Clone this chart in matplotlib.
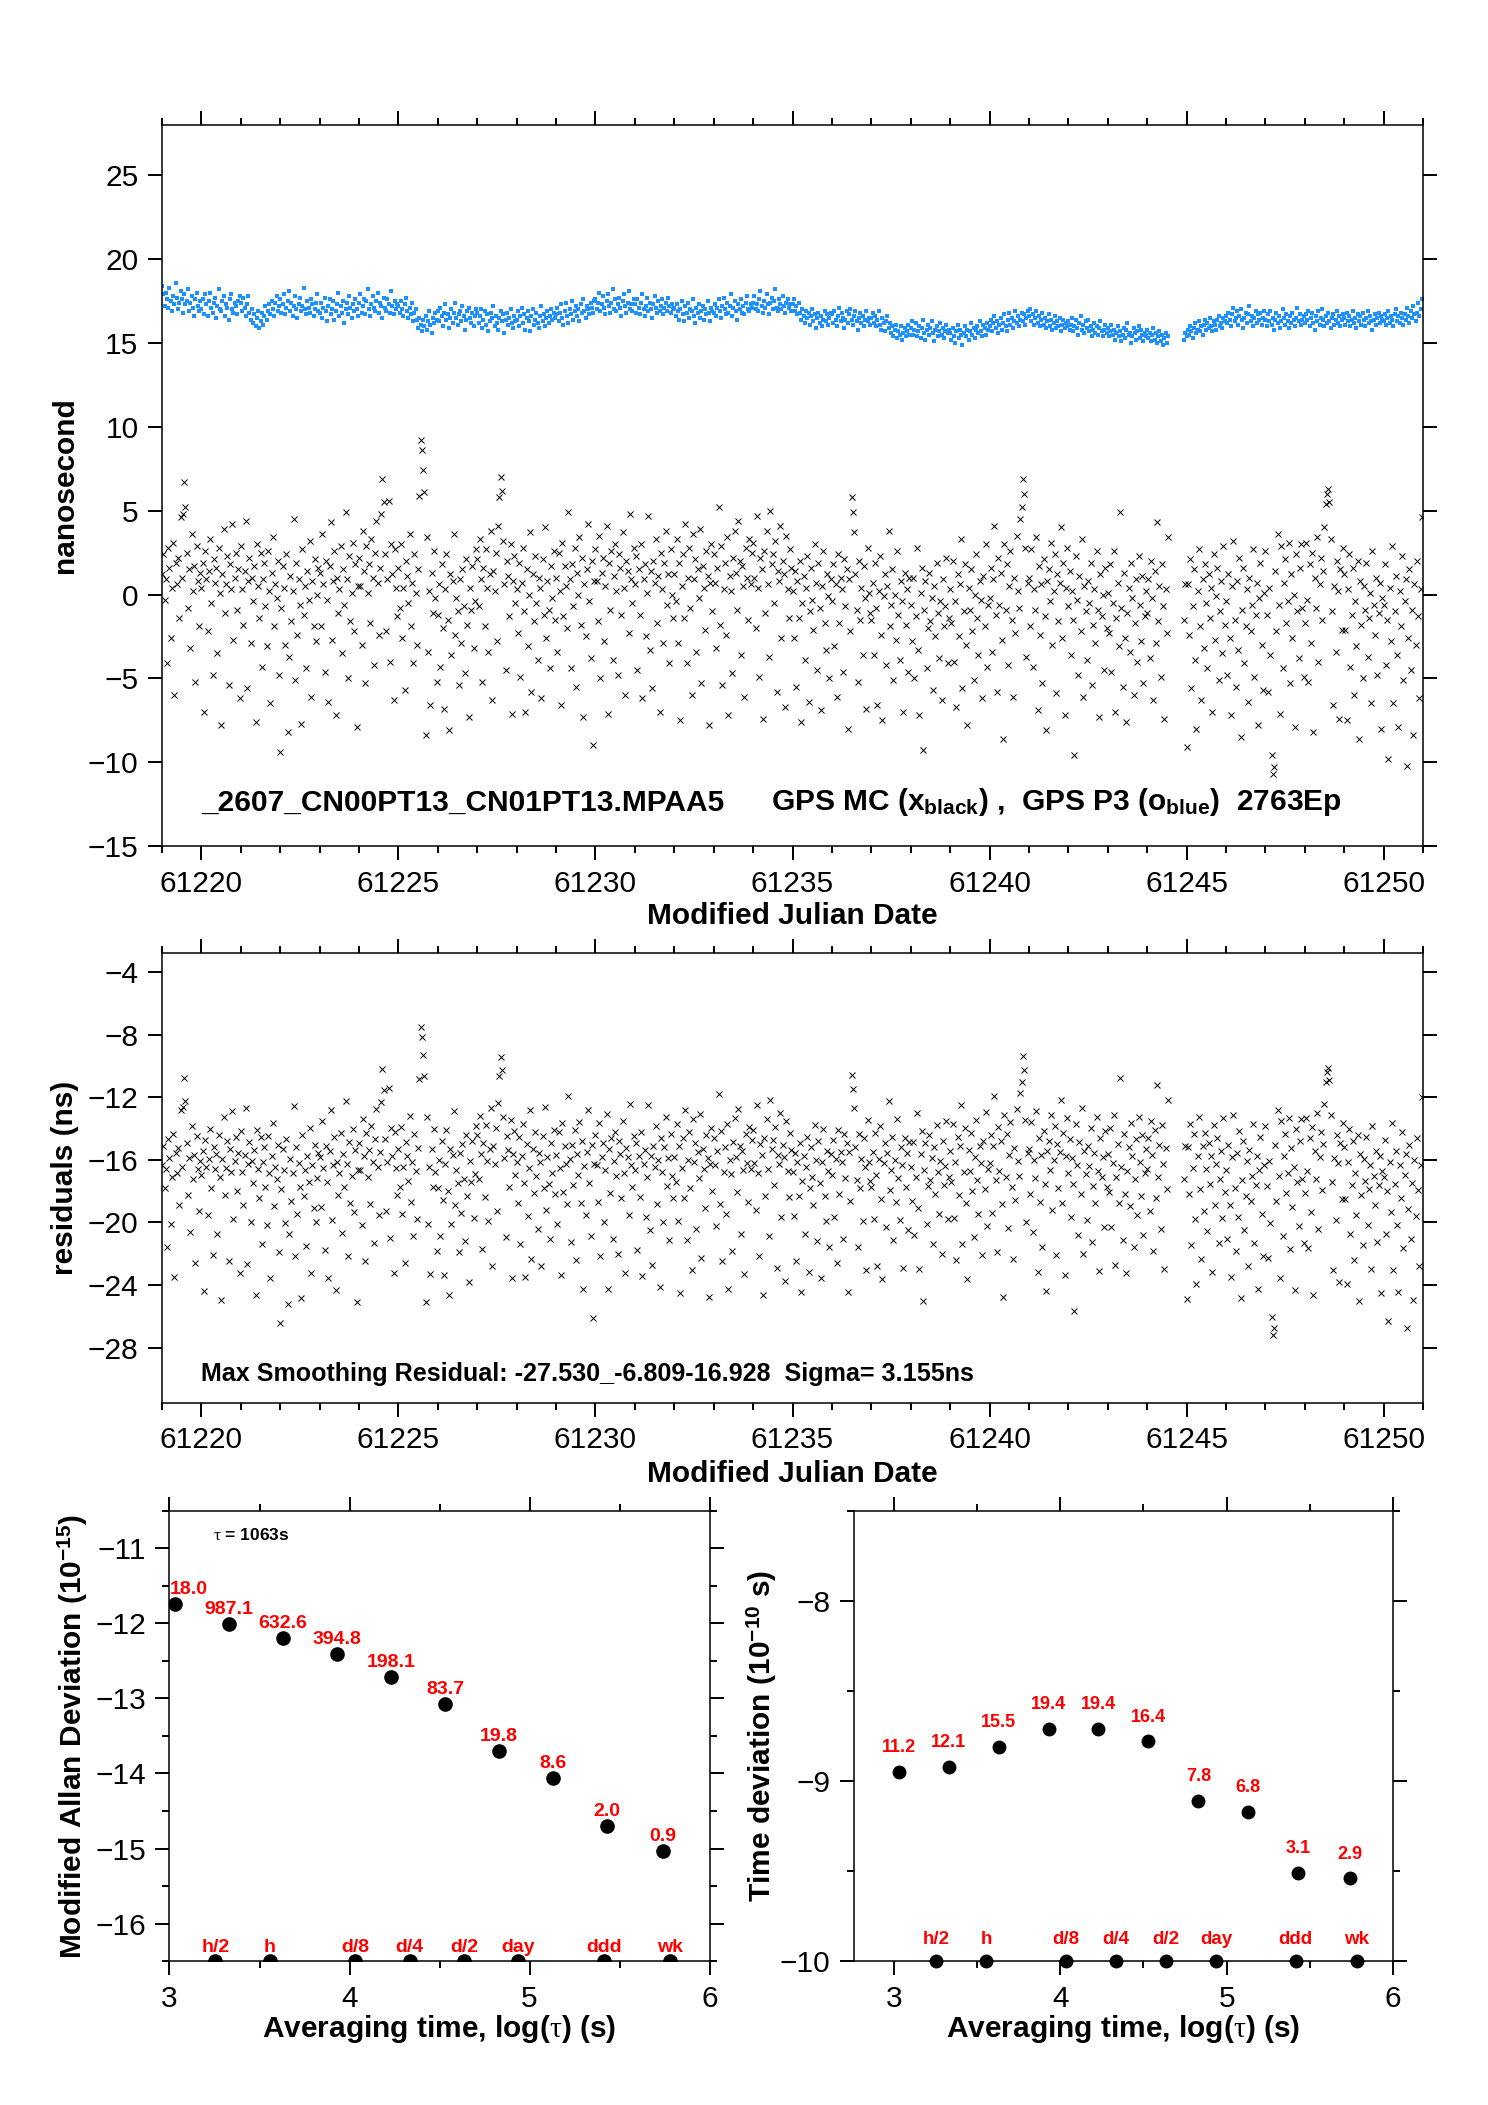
import numpy as np
import pandas as pd
import matplotlib
matplotlib.use('Agg')
import matplotlib.pyplot as plt
from matplotlib.ticker import MultipleLocator

plt.rcParams['font.family'] = ['Liberation Sans', 'DejaVu Sans']
plt.rcParams['mathtext.fontset'] = 'custom'
plt.rcParams['mathtext.rm'] = 'Liberation Sans'
plt.rcParams['mathtext.bf'] = 'Liberation Sans:bold'
plt.rcParams['mathtext.it'] = 'Liberation Serif'
plt.rcParams['axes.unicode_minus'] = True

# ---- time series data: 32 samples per day from MJD 61219.0 (None = no data) ----
mjd_start = 61219.0
samples_per_day = 32

# GPS P3 (blue), one row per day
gps_p3_blue = [
    18.4, 17.9, 17.2, 18.0, 17.6, 17.1, 18.3, 17.5, 16.9, 17.8, 17.3, 18.6, 17.7, 17.0, 17.4, 18.1, 17.6, 16.8, 17.9, 17.3, 17.5, 18.2, 16.9, 17.4, 17.8, 17.1, 16.6, 17.6, 18.0, 17.2, 16.9, 17.5,
    17.0, 17.6, 16.7, 17.9, 17.3, 16.6, 17.5, 18.0, 17.1, 16.8, 17.4, 17.7, 16.5, 17.2, 18.2, 17.0, 16.9, 17.5, 17.8, 16.6, 17.3, 17.1, 16.4, 17.6, 17.9, 17.0, 16.8, 17.4, 17.2, 16.7, 17.5, 17.8,
    17.4, 16.9, 17.7, 17.1, 16.6, 17.3, 17.8, 16.8, 16.4, 17.0, 16.2, 16.7, 16.0, 16.5, 16.9, 15.9, 16.3, 16.8, 16.1, 16.6, 17.2, 16.4, 16.9, 17.3, 16.7, 17.5, 17.0, 16.6, 17.4, 17.8, 16.9, 17.2,
    17.6, 16.8, 17.3, 17.9, 16.7, 17.1, 17.5, 18.1, 16.9, 17.4, 16.6, 17.2, 17.8, 17.0, 16.5, 17.3, 17.7, 16.9, 17.2, 18.3, 17.0, 16.7, 17.5, 17.1, 16.8, 17.6, 17.3, 16.6, 17.0, 17.4, 17.9, 16.9,
    16.8, 17.4, 16.5, 17.1, 17.7, 16.9, 16.3, 17.2, 17.6, 16.7, 17.0, 17.5, 16.4, 16.9, 17.3, 18.0, 16.6, 17.2, 16.8, 17.5, 16.2, 17.0, 17.4, 16.7, 17.8, 17.1, 16.5, 17.3, 16.9, 17.6, 17.0, 16.6,
    17.4, 17.9, 16.8, 17.2, 17.6, 16.7, 17.5, 18.2, 17.0, 16.6, 17.3, 17.8, 17.1, 16.9, 17.5, 18.0, 16.8, 17.4, 17.2, 16.5, 17.7, 17.1, 16.9, 17.6, 17.3, 16.8, 18.1, 17.2, 16.7, 17.5, 17.0, 17.3,
    17.2, 16.8, 17.5, 17.0, 16.6, 17.3, 17.7, 16.9, 16.5, 17.1, 16.7, 17.4, 16.3, 16.8, 17.0, 16.4, 15.9, 16.5, 16.1, 15.7, 16.4, 16.0, 16.6, 15.8, 16.3, 16.9, 16.1, 15.6, 16.5, 16.2, 16.8, 16.4,
    16.9, 16.3, 17.1, 16.6, 16.0, 16.8, 17.3, 16.4, 16.7, 15.9, 16.5, 17.0, 16.2, 16.8, 17.4, 16.5, 16.1, 16.7, 16.9, 16.3, 17.2, 16.6, 15.8, 16.4, 16.9, 17.1, 16.5, 16.2, 16.8, 16.0, 16.6, 17.0,
    16.8, 16.2, 16.6, 17.0, 15.9, 16.4, 16.9, 16.1, 16.7, 15.7, 16.3, 16.8, 16.5, 17.2, 16.0, 16.6, 16.2, 15.8, 16.5, 16.9, 16.3, 16.7, 15.6, 16.4, 16.8, 16.1, 16.5, 17.0, 16.2, 15.9, 16.6, 16.3,
    16.4, 16.9, 16.0, 16.6, 17.1, 16.2, 16.7, 15.8, 16.5, 16.9, 16.3, 15.7, 16.6, 17.0, 16.1, 16.4, 16.8, 16.2, 15.9, 16.6, 17.2, 16.3, 16.7, 16.0, 16.5, 16.9, 16.2, 16.6, 17.0, 16.4, 16.8, 16.5,
    16.7, 17.1, 16.3, 16.8, 17.3, 16.5, 16.1, 16.9, 17.4, 16.6, 16.2, 17.0, 16.7, 17.5, 16.4, 16.9, 17.2, 16.6, 17.0, 16.3, 17.3, 16.8, 17.6, 16.9, 16.5, 17.2, 17.0, 16.7, 17.4, 17.1, 16.8, 17.5,
    17.6, 17.0, 17.4, 18.0, 16.9, 17.3, 17.8, 17.1, 16.7, 17.5, 17.9, 17.2, 16.8, 17.4, 18.2, 17.0, 17.6, 16.9, 17.3, 17.7, 17.1, 16.6, 17.5, 17.9, 17.2, 16.8, 17.4, 18.1, 17.0, 17.3, 16.9, 17.6,
    17.3, 16.8, 17.6, 17.1, 16.7, 17.4, 17.9, 17.0, 16.6, 17.2, 17.7, 16.9, 17.4, 17.0, 16.5, 17.3, 17.8, 17.1, 16.8, 17.5, 16.9, 17.2, 17.6, 16.7, 17.1, 17.4, 16.9, 17.7, 17.2, 16.8, 17.3, 17.0,
    17.1, 16.6, 17.3, 16.9, 16.4, 17.0, 17.5, 16.7, 16.3, 17.2, 16.8, 17.4, 16.5, 17.0, 16.9, 17.6, 16.6, 16.2, 17.1, 16.8, 17.3, 16.5, 16.9, 17.2, 16.4, 17.0, 16.7, 17.5, 16.8, 16.3, 17.1, 16.9,
    16.8, 17.3, 16.6, 17.1, 17.6, 16.9, 16.5, 17.2, 17.7, 17.0, 16.7, 17.4, 16.8, 17.2, 17.9, 16.6, 17.1, 17.5, 16.9, 16.4, 17.3, 17.0, 17.6, 16.8, 17.2, 16.7, 17.4, 17.8, 17.0, 16.9, 17.3, 17.1,
    17.4, 17.8, 17.0, 17.3, 16.9, 17.6, 18.1, 17.2, 16.8, 17.5, 17.1, 17.9, 17.3, 16.7, 17.4, 17.7, 17.0, 17.5, 18.2, 17.1, 16.9, 17.6, 17.3, 17.0, 17.8, 17.2, 16.8, 17.4, 17.6, 17.1, 17.3, 16.9,
    17.3, 17.6, 16.9, 17.2, 16.7, 17.4, 16.8, 16.4, 17.0, 16.6, 16.2, 16.9, 16.5, 16.8, 16.1, 16.6, 17.0, 16.3, 16.7, 15.9, 16.5, 16.8, 16.2, 16.6, 16.0, 16.4, 16.9, 16.3, 16.7, 16.1, 16.5, 16.8,
    16.7, 16.2, 16.9, 16.4, 16.0, 16.6, 17.1, 16.3, 16.8, 16.5, 15.9, 16.4, 16.9, 16.2, 16.7, 17.0, 16.4, 16.1, 16.6, 16.9, 16.3, 15.8, 16.5, 16.8, 16.2, 16.6, 16.0, 16.4, 16.9, 16.3, 16.5, 16.1,
    16.5, 16.8, 16.2, 16.6, 16.0, 16.4, 16.9, 16.1, 15.8, 16.5, 16.2, 15.7, 16.3, 16.6, 15.9, 16.2, 15.6, 16.0, 15.4, 15.8, 16.1, 15.3, 15.7, 15.5, 16.0, 15.2, 15.6, 15.9, 15.4, 15.7, 16.1, 15.5,
    15.9, 16.3, 15.5, 15.8, 16.2, 15.4, 15.7, 16.0, 15.3, 15.9, 16.4, 15.6, 15.2, 15.8, 16.1, 15.5, 15.9, 16.3, 15.6, 15.1, 15.8, 16.0, 15.4, 15.7, 16.2, 15.5, 15.9, 15.3, 15.7, 16.1, 15.6, 15.8,
    15.6, 15.2, 15.9, 15.4, 15.0, 15.7, 16.1, 15.3, 15.8, 15.5, 14.9, 15.6, 16.0, 15.4, 15.8, 15.2, 15.7, 16.2, 15.5, 15.9, 15.3, 15.8, 16.0, 15.6, 16.3, 15.7, 15.4, 16.1, 15.9, 15.5, 16.2, 15.8,
    16.0, 16.4, 15.7, 16.2, 16.6, 15.9, 16.3, 15.6, 16.1, 16.5, 15.8, 16.2, 16.7, 16.0, 15.7, 16.4, 16.8, 16.1, 16.5, 15.9, 16.3, 16.9, 16.2, 16.6, 16.0, 16.4, 16.8, 16.3, 16.7, 16.1, 16.5, 16.9,
    16.6, 17.0, 16.3, 16.7, 16.1, 16.5, 16.9, 16.2, 16.6, 16.0, 16.4, 16.8, 16.1, 16.5, 15.9, 16.3, 16.7, 16.0, 16.4, 15.8, 16.2, 16.6, 15.9, 16.3, 16.0, 16.5, 15.7, 16.1, 16.4, 15.9, 16.2, 16.0,
    16.3, 15.8, 16.1, 16.5, 15.7, 16.0, 16.4, 15.9, 15.5, 16.2, 16.6, 15.8, 16.1, 15.6, 16.3, 15.9, 16.4, 15.7, 16.0, 15.4, 15.8, 16.2, 15.6, 16.0, 15.5, 15.9, 16.3, 15.7, 15.4, 15.8, 16.1, 15.6,
    15.9, 15.4, 15.7, 16.1, 15.5, 15.8, 15.2, 15.6, 16.0, 15.4, 15.7, 15.1, 15.5, 15.9, 15.3, 15.8, 16.2, 15.5, 15.6, 15.0, 15.4, 15.9, 15.6, 15.2, 15.7, 16.0, 15.3, 15.8, 15.5, 15.1, 15.6, 15.4,
    15.8, 15.3, 15.6, 15.1, 15.5, 15.9, 15.2, 15.6, 15.0, 15.4, 15.7, 15.1, 15.5, 14.9, 15.3, 15.6, 15.0, 15.4,
    None, None, None, None, None, None, None, None, None, None, None, None, 15.2, 15.6,
    15.4, 15.8, 15.5, 16.0, 15.7, 15.3, 15.9, 16.2, 15.6, 15.8, 16.3, 15.7, 16.0, 15.5, 16.1, 16.4, 15.8, 16.2, 15.9, 16.5, 16.0, 15.7, 16.3, 16.1, 15.8, 16.4, 16.6, 16.0, 16.2, 15.9, 16.5, 16.3,
    16.6, 16.2, 16.8, 16.4, 16.0, 16.7, 17.1, 16.3, 16.5, 16.9, 16.1, 16.6, 17.0, 16.4, 15.9, 16.5, 16.8, 16.2, 16.7, 17.2, 16.3, 16.6, 16.0, 16.5, 16.9, 16.2, 16.7, 16.4, 16.8, 16.1, 16.5, 16.9,
    16.4, 16.0, 16.7, 16.3, 16.9, 16.1, 16.5, 15.8, 16.4, 16.8, 16.2, 16.6, 15.9, 16.3, 17.0, 16.5, 16.1, 16.7, 16.3, 15.9, 16.6, 16.2, 16.8, 16.4, 16.0, 16.5, 17.1, 16.3, 16.7, 16.1, 16.4, 16.6,
    16.2, 16.7, 16.4, 16.9, 16.0, 16.5, 16.8, 16.2, 15.8, 16.6, 16.3, 16.9, 16.1, 16.5, 17.0, 16.4, 16.0, 16.6, 16.2, 16.8, 16.3, 15.9, 16.5, 16.7, 16.1, 16.4, 16.9, 16.2, 16.6, 16.0, 16.4, 16.7,
    16.5, 16.1, 16.8, 16.3, 16.6, 16.0, 16.4, 16.9, 16.2, 16.5, 15.9, 16.7, 16.3, 16.6, 16.1, 16.8, 16.4, 16.0, 16.5, 16.9, 16.2, 16.6, 16.3, 15.8, 16.4, 16.7, 16.1, 16.5, 16.8, 16.2, 16.6, 16.4,
    16.3, 16.7, 16.1, 16.5, 16.9, 16.2, 16.6, 16.4, 16.0, 16.7, 17.0, 16.3, 16.6, 16.2, 16.8, 16.5, 16.1, 16.7, 16.4, 17.1, 16.6, 16.2, 16.9, 16.5, 17.2, 16.7, 16.3, 16.8, 17.4, 16.6, 17.0, 17.6,
]

# GPS MC (black), one row per day
gps_mc_black = [
    1.2, 2.4, -0.3, 0.9, -4.1, 2.8, 1.6, -2.6, 0.4, 3.1, -6.0, 1.9, 0.6, 2.2, -1.4, 4.6, 1.0, 4.8, 6.7, 5.2, 2.5, -0.8, 1.5, -3.2, 3.6, 0.2, 1.7, -5.2, 2.9, 0.8, -1.9, 1.3,
    0.4, 1.9, -7.0, 2.6, 0.9, -2.2, 1.4, 3.3, -0.5, -4.8, 2.1, 0.7, 1.6, -3.5, 2.8, 0.1, -7.8, 1.2, 3.9, -1.1, 0.6, 2.3, -5.4, 1.8, 0.3, 4.2, -2.7, 1.0, 2.5, -0.9, 1.5, -6.2,
    2.9, 0.3, -1.8, 1.4, 4.4, -5.6, 0.8, 2.2, -2.9, 1.0, -0.4, 1.7, -7.6, 3.0, 0.5, -1.4, 2.5, -4.3, 0.9, 1.9, -0.7, -3.1, 2.6, 0.2, -6.5, 1.3, 3.4, -1.9, 0.6, -0.2, 2.0, -4.8,
    -9.4, -0.8, 1.7, 0.4, -3.0, 2.4, -8.2, -3.7, 1.1, -1.6, 0.2, 4.5, -5.1, 1.9, -2.4, 0.9, -0.6, -7.7, 2.7, -1.2, 0.5, -4.4, 1.4, -0.3, 3.2, -6.1, 0.8, -1.9, 2.1, -2.8, 0.0, 1.6,
    1.3, -1.9, 3.6, 0.6, -4.6, 2.0, -0.3, -6.4, 1.7, 4.3, -2.7, 0.8, 2.6, -7.2, 1.0, -1.1, 0.3, 2.9, -3.5, 1.5, -0.6, 4.9, 0.9, -5.0, 2.3, -1.6, 0.1, 3.1, -2.2, 1.8, -7.9, 0.5,
    2.2, 0.5, -3.0, 3.8, 1.4, -5.3, 2.9, 0.1, 1.8, -1.7, 3.3, 1.0, -4.2, 2.5, 4.4, 0.7, -2.4, 1.6, 4.8, 6.9, 5.5, 2.4, -2.2, 0.9, 5.6, -4.0, 3.0, 1.2, -6.3, 2.7, 0.4, -1.3,
    1.6, -0.8, 3.0, -2.6, 0.4, -5.7, 2.0, 1.1, -0.5, 3.6, -1.9, 0.7, -4.1, 2.4, 0.1, -3.0, 1.5, 5.9, 9.2, 8.6, 7.4, 6.1, -8.4, 3.4, -3.4, 0.2, -6.6, 1.3, -1.1, 2.6, -0.2, -5.2,
    -1.2, 0.6, -4.3, 1.8, -2.0, -6.8, 0.3, 2.4, -1.5, -8.1, 1.2, -3.6, 0.8, 3.6, -2.4, -0.2, -1.0, -5.4, 0.9, -2.9, 1.5, -0.7, -4.7, 2.1, -1.8, -7.3, 0.4, -0.9, 1.7, -3.2, -0.4, 2.7,
    2.1, -0.7, 3.3, 0.9, -5.2, 1.6, -1.9, 2.7, 0.4, -3.4, 1.2, 3.8, -6.3, 1.4, 0.2, 2.5, -2.8, 4.1, 5.8, 7.0, 6.2, 3.2, 0.6, -4.5, 2.0, 1.1, -1.3, 3.0, -7.1, 0.8, 2.3, -0.5,
    0.3, -2.3, 1.9, -4.9, 0.7, 2.8, -1.0, -7.0, 1.5, -3.1, 0.0, 3.7, -5.8, 1.2, -1.6, 2.3, -0.5, -3.9, 1.0, 0.4, -6.2, 2.1, -1.2, 4.0, -2.6, 0.8, -0.9, -4.4, 1.7, -0.2, 2.6, -1.5,
    1.0, -3.4, 2.5, 0.2, -6.6, 3.1, -1.3, 1.7, 0.5, -2.0, 4.9, 0.9, -4.4, 1.8, -0.7, 2.8, -5.5, 1.3, 0.0, 3.4, -1.8, 2.2, -7.3, 0.6, -2.5, 1.5, 4.2, -0.4, -3.8, 2.0, -9.0, 0.8,
    2.7, 0.8, -1.6, 3.5, -5.0, 1.3, 2.2, -2.8, 0.5, 4.1, -7.1, 1.9, -0.9, 2.6, -3.9, 1.1, 3.0, 0.2, -4.8, 2.4, 1.6, -1.2, 3.7, 0.4, -6.0, 2.0, 1.4, -2.3, 4.8, 0.9, -0.5, 2.8,
    0.6, 2.3, -4.5, 1.5, -1.2, 3.0, -6.2, 0.9, 1.8, -2.5, 0.1, 4.7, -3.3, 1.4, -5.6, 2.0, 0.7, 3.3, -1.7, 1.1, -7.0, 2.5, 0.3, -2.9, 1.9, 3.8, -0.6, 1.2, -4.1, 2.7, 0.0, -1.4,
    1.2, -0.4, 3.3, -2.9, 1.9, -7.5, 0.5, 2.4, -1.4, 4.2, -4.1, 1.0, 2.8, -0.8, -6.0, 3.6, 0.9, 2.1, -3.4, 1.5, -0.2, 3.9, -5.3, 1.7, 0.4, -2.1, 2.6, 1.1, -7.8, 0.7, 3.0, -1.0,
    2.4, 0.7, -3.2, 1.6, 5.2, -1.8, 2.9, -5.4, 0.3, 1.9, -2.4, 3.4, -7.2, 1.1, 0.2, -4.7, 2.2, 3.8, 1.3, -0.9, 4.4, 2.0, -3.6, 1.7, 0.5, -6.1, 2.8, 1.0, -1.5, 3.3, 0.6, 2.5,
    3.1, 1.0, -2.0, 4.7, 0.4, -4.9, 2.2, 1.5, -7.4, 2.6, -1.1, 3.8, 0.6, -3.7, 5.0, 1.8, 2.4, -0.5, 3.2, -5.8, 1.4, 0.8, 4.1, -2.6, 2.0, 1.2, -6.7, 3.5, 0.3, -1.4, 2.7, 1.6,
    0.2, -2.6, 1.4, -5.5, 0.8, -1.4, 2.0, -7.6, -0.5, 1.1, -3.9, 0.4, 2.3, -6.4, -1.0, 1.6, -0.3, -2.1, 3.0, 0.7, -4.5, 1.9, -0.8, -6.9, 0.5, 2.6, -1.7, -3.3, 1.2, -0.1, -5.0, 0.9,
    -0.4, 1.8, -3.1, 0.6, -6.1, 2.4, -1.7, 1.0, 0.3, -4.6, 2.1, -0.7, 1.5, -8.0, 0.9, -2.2, 5.8, 4.9, 3.7, 1.2, -0.9, -5.2, 2.0, -1.5, 0.4, -3.6, 1.7, -0.2, -6.8, 2.8, 0.1, -1.1,
    -1.5, 0.7, -3.6, 1.9, -0.8, -6.6, 0.2, 2.3, -2.4, -7.5, -0.1, 1.2, -4.2, 0.5, 3.8, -1.9, -0.6, 1.5, -5.1, 0.0, -2.7, 2.6, -1.2, -3.9, 0.8, -0.4, -7.0, 1.3, -1.8, 0.3, -4.6, 1.0,
    -0.6, -2.8, 1.0, -5.0, -1.3, 2.8, -3.3, -7.2, 0.1, 1.6, -9.3, -0.9, 0.8, -4.4, -2.0, 1.3, -1.6, -0.2, -5.7, 0.5, -2.5, 1.9, -1.1, -3.8, -0.4, -6.3, 0.9, -1.9, -0.7, 2.2, -4.1, -1.4,
    0.3, -1.7, 2.0, -4.0, -0.4, -6.7, 1.2, -2.5, 0.6, 3.3, -5.6, -1.0, 1.8, -3.0, -7.8, 0.4, -0.9, 1.5, -2.2, -5.1, 0.0, 2.4, -1.4, -3.6, 0.8, -0.3, -6.2, 1.1, -1.9, 3.0, -4.3, -0.6,
    -0.2, 1.6, -3.4, 0.9, 4.1, -1.2, -5.8, 2.2, -0.6, 1.3, -2.7, -8.6, 3.0, -0.9, 1.8, -4.2, 0.5, 2.6, -1.5, -6.1, 1.0, -2.3, 3.5, 0.2, -0.8, 4.5, 5.2, 6.9, 6.0, 2.8, -3.7, 0.7,
    1.0, -1.9, 2.7, -4.3, 0.3, -0.9, 3.4, -6.9, 1.7, -2.4, 0.6, -5.3, 2.1, -1.3, -8.1, 0.8, 1.5, -0.4, 3.1, -3.0, 0.2, 2.4, -5.9, 1.2, -1.6, 0.7, 4.0, -2.6, 1.9, -7.2, 0.4, 2.8,
    -0.7, 1.4, -3.6, 0.2, -1.5, -9.6, 2.3, -0.3, -4.8, 1.1, -2.2, 3.3, -6.1, 0.5, -1.0, -3.9, 0.8, -0.5, 1.9, -5.4, -1.8, 0.3, -2.9, 2.6, -0.9, -7.3, 1.2, -1.3, 0.0, -4.5, 1.6, -2.0,
    0.1, -2.3, 1.8, -4.6, -0.5, 2.6, -7.0, -1.4, 0.7, -3.1, 4.9, -0.8, -5.5, 1.3, -2.6, -7.6, -1.1, 0.4, -3.4, 1.9, -0.2, -6.0, -1.7, 0.9, -4.0, 2.3, -0.6, -2.8, 1.1, -5.3, -1.3, 0.2,
    -1.1, 0.9, -3.8, 2.0, -0.2, -6.3, 1.4, -2.9, 4.3, -1.6, 0.5, -4.9, 1.8, -0.7, -7.4, 0.3, -2.3, 3.4,
    None, None, None, None, None, None, None, None, None, None, None, None, -1.5, 0.6,
    -9.1, 0.6, -2.4, 2.1, -5.6, -0.7, 1.5, -3.9, -8.0, 0.2, 2.7, -1.9, -6.3, 0.9, -3.2, 1.8, -0.5, -4.4, 1.2, -1.4, 0.4, -7.0, 2.4, -2.7, -0.1, 1.6, -5.1, -1.0, 0.8, -3.5, 2.9, -1.8,
    -0.4, -4.8, 1.2, -2.6, -7.2, 0.5, 3.2, -1.5, -5.5, 0.8, -3.3, 2.2, -8.5, -0.9, 1.6, -4.1, -1.9, 0.3, -6.4, 1.0, -2.2, -0.6, 2.7, -4.9, -1.2, 0.7, -7.8, -0.2, 1.9, -3.0, -5.7, 0.1,
    2.6, -1.2, -5.8, 0.4, -3.6, -9.6, -10.7, -10.3, 1.4, -2.2, 3.6, -0.6, -7.1, 2.9, -4.4, 0.7, 2.1, -1.7, -0.4, 3.1, -5.3, 1.2, -2.6, 0.0, -7.9, 2.4, -1.0, -3.8, 1.6, 3.0, -0.8, -4.9,
    -1.7, 3.1, -0.3, -5.2, 1.8, -2.9, 2.5, -8.2, 1.0, -0.8, 3.4, -4.0, 0.6, 2.2, -1.5, 1.4, 4.0, 5.4, 6.0, 6.3, 5.5, 3.3, -1.0, -6.6, 0.5, -3.4, 2.0, 0.2, -7.4, 1.5, -2.1, 2.8,
    1.2, -2.1, -7.5, 0.3, 2.4, -4.3, -1.2, 1.6, -6.0, -0.4, -3.1, 2.0, -8.6, 0.8, -1.8, -5.0, 0.5, -0.9, 1.9, -3.7, -1.4, 0.1, -6.5, 2.6, -0.6, -2.4, 1.0, -4.8, -1.1, 0.7, -8.0, -0.2,
    -0.6, 1.8, -4.2, -1.5, -9.8, 0.4, -2.8, 2.9, -6.5, -1.0, 1.1, -3.6, -7.9, 0.2, -1.9, 2.3, -5.1, -0.4, 0.9, -10.2, -2.6, 1.5, -4.5, -0.9, -8.4, 0.6, -3.0, 2.0, -1.3, -6.2, 0.3, 4.6,
]

title_file = '_2607_CN00PT13_CN01PT13.MPAA5'
title_series = r'GPS MC (x$_{\mathbf{black}}$) ,  GPS P3 (o$_{\mathbf{blue}}$)  2763Ep'
resid_text = 'Max Smoothing Residual: -27.530_-6.809-16.928  Sigma= 3.155ns'

# ---- stability data ----
log_tau = [3.03, 3.33, 3.63, 3.93, 4.23, 4.53, 4.83, 5.13, 5.43, 5.74]
mdev = [-11.74, -12.01, -12.20, -12.41, -12.71, -13.08, -13.70, -14.06, -14.70, -15.03]
mdev_labels = ['18.0', '987.1', '632.6', '394.8', '198.1', '83.7', '19.8', '8.6', '2.0', '0.9']
tdev = [-8.95, -8.92, -8.81, -8.71, -8.71, -8.78, -9.11, -9.17, -9.51, -9.54]
tdev_labels = ['11.2', '12.1', '15.5', '19.4', '19.4', '16.4', '7.8', '6.8', '3.1', '2.9']
mark_log = [3.255, 3.556, 4.033, 4.334, 4.635, 4.936, 5.414, 5.782]
mark_names = ['h/2', 'h', 'd/8', 'd/4', 'd/2', 'day', 'ddd', 'wk']

blue = np.array(gps_p3_blue, dtype=float)
black = np.array(gps_mc_black, dtype=float)
mjd = mjd_start + np.arange(len(blue)) / samples_per_day
# residual = MC data minus a running mean of the P3 data
smooth = pd.Series(blue).rolling(65, center=True, min_periods=1).mean().to_numpy()
resid = black - smooth

FS = 21.5
RED = '#ff0000'


def style(ax):
    ax.tick_params(which='both', direction='out', top=True, right=True,
                   labelsize=FS, width=1.4, pad=7)
    ax.tick_params(which='major', length=10)
    ax.tick_params(which='minor', length=5)
    for s in ax.spines.values():
        s.set_linewidth(1.1)


fig = plt.figure(figsize=(14.88, 21.05), dpi=100)

# ---- top: raw data ----
ax1 = fig.add_axes([0.1089, 0.5981, 0.8474, 0.3425])
ax1.plot(mjd, blue, 's', ms=2.2, mew=0, color='#1e90ff')
ax1.plot(mjd, black, 'x', ms=4.5, mew=0.7, color='black')
ax1.set_xlim(61219, 61251)
ax1.set_ylim(-15, 28)
ax1.xaxis.set_major_locator(MultipleLocator(5))
ax1.xaxis.set_minor_locator(MultipleLocator(1))
ax1.yaxis.set_major_locator(MultipleLocator(5))
style(ax1)
ax1.set_ylabel('nanosecond', fontsize=FS, fontweight='bold')
ax1.yaxis.set_label_coords(-0.066, 0.5)
ax1.set_xlabel('Modified Julian Date', fontsize=FS, fontweight='bold')
ax1.xaxis.set_label_coords(0.5, -0.077)
ax1.text(61220.0, -12.4, title_file, fontsize=FS, fontweight='bold', va='center')
ax1.text(61234.45, -12.4, title_series, fontsize=FS, fontweight='bold', va='center')

# ---- middle: residuals ----
ax2 = fig.add_axes([0.1089, 0.3336, 0.8474, 0.2135])
ax2.plot(mjd, resid, 'x', ms=4.5, mew=0.7, color='black')
ax2.set_xlim(61219, 61251)
ax2.set_ylim(-31.53, -2.81)
ax2.xaxis.set_major_locator(MultipleLocator(5))
ax2.xaxis.set_minor_locator(MultipleLocator(1))
ax2.yaxis.set_major_locator(MultipleLocator(4))
style(ax2)
ax2.set_ylabel('residuals (ns)', fontsize=FS, fontweight='bold')
ax2.yaxis.set_label_coords(-0.066, 0.5)
ax2.set_xlabel('Modified Julian Date', fontsize=FS, fontweight='bold')
ax2.xaxis.set_label_coords(0.5, -0.127)
ax2.text(61220.0, -29.66, resid_text, fontsize=FS * 0.84, fontweight='bold', va='center')

# ---- bottom left: modified Allan deviation ----
ax3 = fig.add_axes([0.1139, 0.0684, 0.3630, 0.2138])
ax3.plot(log_tau, mdev, 'o', ms=9.5, color='black')
ax3.plot(mark_log, [-16.5] * len(mark_log), 'o', ms=9.5, color='black')
ax3.set_xlim(3, 6)
ax3.set_ylim(-16.5, -10.5)
for i, (x, y, lab) in enumerate(zip(log_tau, mdev, mdev_labels)):
    ha = 'center'
    if i == 0:
        x, ha = 3.0, 'left'
    ax3.annotate(lab, (x, y), xytext=(0, 10.5), textcoords='offset points',
                 ha=ha, va='center', color=RED, fontsize=14, fontweight='bold')
for x, lab in zip(mark_log, mark_names):
    ax3.annotate(lab, (x, -16.5), xytext=(0, 9.8), textcoords='offset points',
                 ha='center', va='center', color=RED, fontsize=14, fontweight='bold')
ax3.text(3.24, -10.82, r'$\tau$ = 1063s', fontsize=12.5, fontweight='bold', va='center')
ax3.xaxis.set_major_locator(MultipleLocator(1))
ax3.xaxis.set_minor_locator(MultipleLocator(0.5))
ax3.yaxis.set_major_locator(MultipleLocator(1))
ax3.yaxis.set_minor_locator(MultipleLocator(0.5))
style(ax3)
ax3.set_ylabel(r'Modified Allan Deviation (10$^{\mathbf{-15}}$)', fontsize=FS, fontweight='bold')
ax3.yaxis.set_label_coords(-0.147, 0.5)
ax3.set_xlabel(r'Averaging time, log($\tau$) (s)', fontsize=FS, fontweight='bold')
ax3.xaxis.set_label_coords(0.5, -0.116)

# ---- bottom right: time deviation ----
ax4 = fig.add_axes([0.5738, 0.0684, 0.3624, 0.2138])
ax4.plot(log_tau, tdev, 'o', ms=9, color='black')
ax4.plot(mark_log, [-10] * len(mark_log), 'o', ms=9, color='black', clip_on=False)
ax4.set_xlim(2.76, 6.0)
ax4.set_ylim(-10, -7.5)
for x, y, lab in zip(log_tau, tdev, tdev_labels):
    ax4.annotate(lab, (x, y), xytext=(0, 17.3), textcoords='offset points',
                 ha='center', va='center', color=RED, fontsize=13, fontweight='bold')
for x, lab in zip(mark_log, mark_names):
    ax4.annotate(lab, (x, -10), xytext=(0, 15.8), textcoords='offset points',
                 ha='center', va='center', color=RED, fontsize=13.5, fontweight='bold')
ax4.xaxis.set_major_locator(MultipleLocator(1))
ax4.xaxis.set_minor_locator(MultipleLocator(0.5))
ax4.yaxis.set_major_locator(MultipleLocator(1))
ax4.yaxis.set_minor_locator(MultipleLocator(0.5))
style(ax4)
ax4.set_ylabel(r'Time deviation (10$^{\mathbf{-10}}$ s)', fontsize=FS, fontweight='bold')
ax4.yaxis.set_label_coords(-0.139, 0.5)
ax4.set_xlabel(r'Averaging time, log($\tau$) (s)', fontsize=FS, fontweight='bold')
ax4.xaxis.set_label_coords(0.5, -0.116)

fig.savefig('out.png', dpi=100)
